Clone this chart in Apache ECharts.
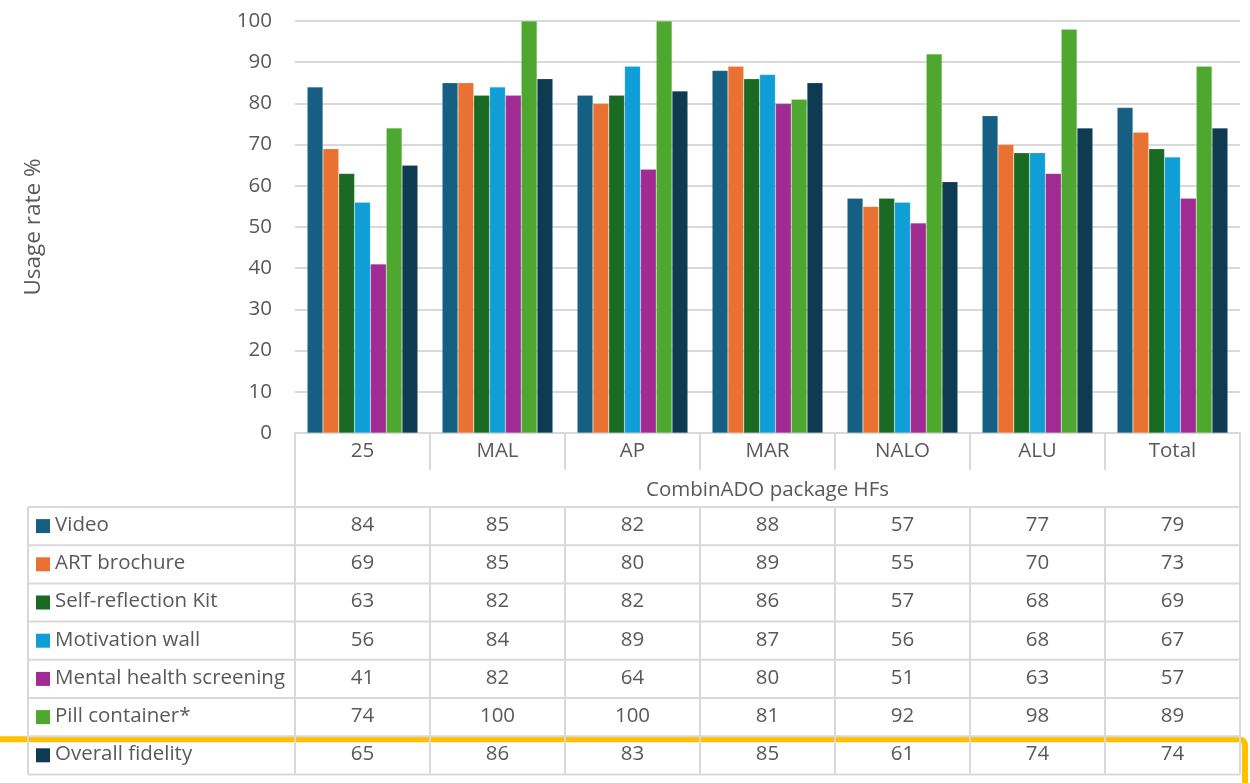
<!DOCTYPE html>
<html>
<head>
<meta charset="utf-8">
<script src="https://cdn.jsdelivr.net/npm/echarts@6/dist/echarts.min.js"></script>
<style>
  html, body { margin: 0; padding: 0; background: #fff; }
  #chart { width: 1250px; height: 783px; }
</style>
</head>
<body>
<div id="chart"></div>
<script>
const categories = ["25", "MAL", "AP", "MAR", "NALO", "ALU", "Total"];
const seriesNames = ["Video", "ART brochure", "Self-reflection Kit", "Motivation wall",
  "Mental health screening", "Pill container*", "Overall fidelity"];

const video = [84, 85, 82, 88, 57, 77, 79];
const artBrochure = [69, 85, 80, 89, 55, 70, 73];
const selfReflectionKit = [63, 82, 82, 86, 57, 68, 69];
const motivationWall = [56, 84, 89, 87, 56, 68, 67];
const mentalHealthScreening = [41, 82, 64, 80, 51, 63, 57];
const pillContainer = [74, 100, 100, 81, 92, 98, 89];
const overallFidelity = [65, 86, 83, 85, 61, 74, 74];

const seriesValues = [video, artBrochure, selfReflectionKit, motivationWall,
  mentalHealthScreening, pillContainer, overallFidelity];
const colors = ["#156082", "#E97132", "#196B24", "#0F9ED5", "#A02B93", "#4EA72E", "#0E3A52"];

const FONT = "'Open Sans'";
const FS = 20.5;
const TEXT = "#595959";
const LINE = "#d9d9d9";

// data-table layout (Excel puts the table under the plot)
const tableLeft = 28;
const tableTop = 507;
const rowH = 38.2;

const chart = echarts.init(document.getElementById("chart"));

chart.setOption({
  animation: false,
  textStyle: { fontFamily: FONT },
  grid: { left: 295, right: 10, top: 21, bottom: 350, containLabel: false },
  xAxis: {
    type: "category",
    data: categories,
    name: "CombinADO package HFs",
    nameLocation: "middle",
    nameGap: 47,
    nameTextStyle: { color: TEXT, fontSize: FS, fontFamily: FONT },
    axisLine: { lineStyle: { color: LINE, width: 2 } },
    axisTick: { show: true, length: 37, lineStyle: { color: LINE, width: 2 } },
    axisLabel: { color: TEXT, fontSize: FS, margin: 8, fontFamily: FONT },
  },
  yAxis: {
    type: "value",
    min: 0,
    max: 100,
    interval: 10,
    name: "Usage rate %",
    nameLocation: "middle",
    nameGap: 250,
    nameTextStyle: { color: TEXT, fontSize: 22.5, fontFamily: FONT },
    axisLine: { show: false },
    axisTick: { show: false },
    axisLabel: { color: TEXT, fontSize: FS, margin: 23, fontFamily: FONT },
    splitLine: { lineStyle: { color: LINE, width: 2 } },
  },
  series: seriesNames.map((name, i) => ({
    name,
    type: "bar",
    data: seriesValues[i],
    barGap: "0%",
    barCategoryGap: "18%",
    itemStyle: { color: colors[i], borderColor: "rgba(255,255,255,0.35)", borderWidth: 0.5 },
  })),
});

// build the data table from the axis scale
function drawTable() {
  const x0 = chart.convertToPixel({ xAxisIndex: 0 }, 0);
  const x1 = chart.convertToPixel({ xAxisIndex: 0 }, 1);
  const band = x1 - x0;
  const plotLeft = x0 - band / 2;
  const plotRight = plotLeft + band * categories.length;
  const axisY = chart.convertToPixel({ yAxisIndex: 0 }, 0);
  const tableBottom = tableTop + rowH * seriesNames.length;
  const g = [];
  const line = (xa, ya, xb, yb) => g.push({
    type: "line", silent: true, z: 10,
    shape: { x1: xa, y1: ya, x2: xb, y2: yb },
    style: { stroke: LINE, lineWidth: 2 },
  });

  // highlight round the last row
  const hlY = tableTop + rowH * (seriesNames.length - 1) + 3;
  g.push({
    type: "rect", silent: true, z: 5,
    shape: { x: -20, y: hlY, width: plotRight + 25, height: 200, r: 6 },
    style: { fill: "none", stroke: "#FFC000", lineWidth: 6 },
  });

  // outer verticals of the category area
  line(plotLeft, axisY, plotLeft, tableBottom);
  line(plotRight, axisY, plotRight, tableBottom);
  // inner column separators and left border
  for (let c = 1; c < categories.length; c++) {
    const x = plotLeft + band * c;
    line(x, tableTop, x, tableBottom);
  }
  line(tableLeft, tableTop, tableLeft, tableBottom);
  for (let r = 0; r <= seriesNames.length; r++) {
    const y = tableTop + rowH * r;
    line(tableLeft, y, plotRight, y);
  }

  seriesNames.forEach((name, r) => {
    const cy = tableTop + rowH * r + rowH / 2;
    g.push({
      type: "rect", silent: true, z: 11,
      shape: { x: 36, y: cy - 7, width: 14, height: 14 },
      style: { fill: colors[r] },
    });
    g.push({
      type: "text", silent: true, z: 11,
      style: { x: 55, y: cy - 1, text: name, fill: TEXT, font: `${FS}px ${FONT}`, textVerticalAlign: "middle" },
    });
    seriesValues[r].forEach((v, c) => {
      const cx = chart.convertToPixel({ xAxisIndex: 0 }, c);
      g.push({
        type: "text", silent: true, z: 11,
        style: { x: cx, y: cy - 1, text: String(v), fill: TEXT, font: `${FS}px ${FONT}`,
          textAlign: "center", textVerticalAlign: "middle" },
      });
    });
  });

  chart.setOption({ graphic: g });
}

drawTable();
window.addEventListener("resize", () => { chart.resize(); drawTable(); });
</script>
</body>
</html>
